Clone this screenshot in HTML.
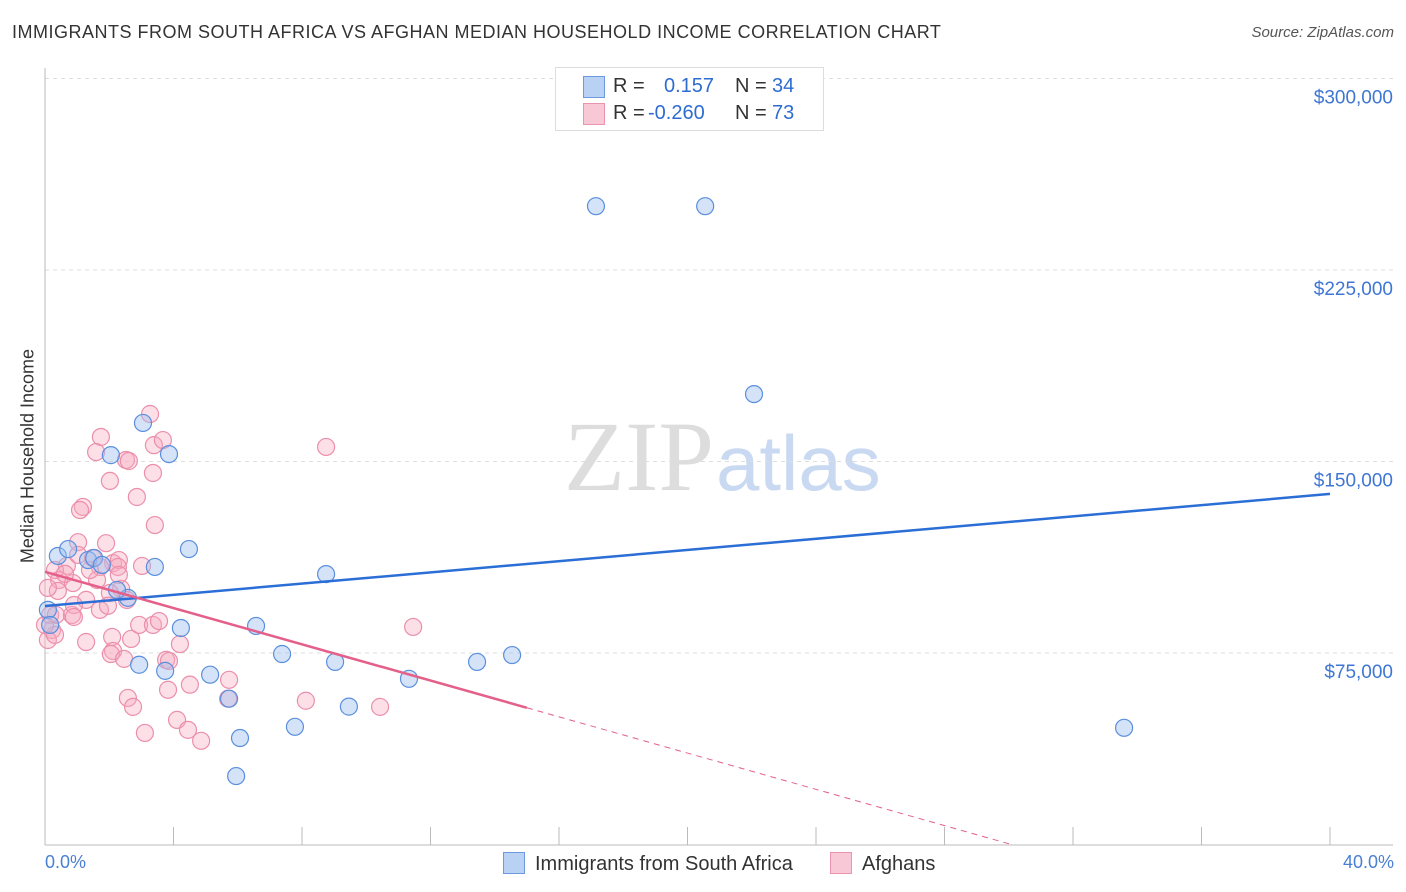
<!DOCTYPE html>
<html><head><meta charset="utf-8"><style>
body{margin:0;background:#fff;font-family:"Liberation Sans",sans-serif}
#wrap{position:relative;width:1406px;height:892px;overflow:hidden}
.t{position:absolute;white-space:nowrap}
</style></head><body>
<div id="wrap">
<div class="t" style="left:12px;top:22px;font-size:18px;color:#333;letter-spacing:0.5px">IMMIGRANTS FROM SOUTH AFRICA VS AFGHAN MEDIAN HOUSEHOLD INCOME CORRELATION CHART</div>
<div class="t" style="right:12px;top:24px;font-size:15px;color:#555;font-style:italic">Source: ZipAtlas.com</div>
<svg id="plot" width="1406" height="892" style="position:absolute;left:0;top:0">
<text x="714" y="490" font-family="Liberation Serif" font-size="100" fill="#ddd" text-anchor="end">ZIP</text>
<text x="716" y="490" font-family="Liberation Sans" font-size="78" fill="#c9d9f1">atlas</text>
</svg>
<div class="t" style="left:28px;top:456px;font-size:18px;color:#333;transform:translate(-50%,-50%) rotate(-90deg)">Median Household Income</div>
<div class="t" style="left:45px;top:852px;font-size:18px;color:#4a7fd4">0.0%</div>
<div class="t" style="right:12px;top:852px;font-size:18px;color:#4a7fd4">40.0%</div>
<div style="position:absolute;left:555px;top:67px;width:267px;height:62px;border:1px solid #ddd;background:#fff;font-size:20px">
 <div style="position:absolute;left:27px;top:8px;width:20px;height:20px;background:#b9d1f3;border:1px solid #6b9ae0"></div>
 <div class="t" style="left:57px;top:7px;color:#333">R =</div><div class="t" style="left:108px;top:7px;color:#2e6cd1">0.157</div>
 <div class="t" style="left:179px;top:7px;color:#333">N =</div><div class="t" style="left:216px;top:7px;color:#2e6cd1">34</div>
 <div style="position:absolute;left:27px;top:35px;width:20px;height:20px;background:#f9c8d6;border:1px solid #ec93ae"></div>
 <div class="t" style="left:57px;top:34px;color:#333">R =</div><div class="t" style="left:92px;top:34px;color:#2e6cd1">-0.260</div>
 <div class="t" style="left:179px;top:34px;color:#333">N =</div><div class="t" style="left:216px;top:34px;color:#2e6cd1">73</div>
</div>
<div style="position:absolute;left:503px;top:852px;font-size:20px;color:#333">
 <div style="position:absolute;left:0;top:0;white-space:nowrap"><span style="display:inline-block;width:20px;height:20px;background:#b9d1f3;border:1px solid #6b9ae0;vertical-align:-4px;margin-right:10px"></span>Immigrants from South Africa</div>
 <div style="position:absolute;left:327px;top:0;white-space:nowrap"><span style="display:inline-block;width:20px;height:20px;background:#f9c8d6;border:1px solid #ec93ae;vertical-align:-4px;margin-right:10px"></span>Afghans</div>
</div>
</div>
<script>
const yTicks=[75000,150000,225000,300000];
const yTickLabels=["$75,000","$150,000","$225,000","$300,000"];
const xTicks=[0,4,8,12,16,20,24,28,32,36,40];
const blueX=[17.15,20.55,22.07,3.05,2.05,3.86,4.48,3.42,8.75,0.40,0.72,1.34,1.53,1.77,2.58,2.24,0.09,0.16,4.23,6.57,7.38,9.03,13.45,14.54,2.93,3.74,5.14,11.33,5.73,7.78,9.46,6.07,5.95,33.59];
const blueY=[250,250,176.4,165.1,152.5,152.9,115.7,108.7,105.9,113.0,115.7,111.4,112.2,109.5,96.6,99.7,91.9,86.0,84.8,85.6,74.6,71.5,71.5,74.2,70.4,68.0,66.5,64.9,57.1,46.1,54.0,41.7,26.8,45.7];
const pinkX=[3.27,1.74,1.59,3.39,2.52,3.67,2.61,3.36,2.86,1.18,1.09,3.42,2.02,1.03,1.90,2.12,2.30,0.68,0.31,0.44,0.87,0.62,1.49,1.71,2.27,2.37,2.55,2.02,1.28,1.62,1.03,0.40,0.09,0.16,0.34,0.84,0.90,1.71,1.96,3.02,2.30,0.90,0.22,0.09,1.28,2.09,2.12,2.68,2.93,3.36,3.55,3.77,3.86,4.20,2.05,2.46,2.58,2.74,3.83,4.51,5.73,5.70,8.12,10.43,11.46,8.75,3.11,4.11,4.45,4.86,0.31,0.00,1.40];
const pinkY=[168.6,159.6,153.7,156.4,150.6,158.4,150.2,145.5,136.1,132.2,131.0,125.1,142.4,118.4,118.0,110.2,111.4,109.1,107.5,103.6,102.4,106.0,112.2,108.7,108.7,100.1,95.8,98.5,95.8,103.6,113.4,99.3,100.5,89.9,89.9,89.9,93.8,91.9,93.5,109.1,105.6,89.1,84.0,80.1,79.3,81.3,75.8,80.5,86.0,86.0,87.5,72.3,71.9,78.5,74.6,72.7,57.4,53.9,60.6,62.6,64.5,57.1,56.3,53.9,85.2,155.7,43.7,48.8,44.9,40.6,82.1,86.0,107.5];
const blueTrend=[93.4,137.3];
const pinkTrend=[106.8,-3.55];
const pinkSolidEnd=15.0;

const NS="http://www.w3.org/2000/svg";
const svg=document.getElementById('plot');
const X=v=>45+v/40*1285;
const Y=v=>844.5-v/75000*191.5;
const Yk=v=>Y(v*1000);
function mk(tag,attrs){const e=document.createElementNS(NS,tag);for(const k in attrs)e.setAttribute(k,attrs[k]);svg.appendChild(e);return e;}
yTicks.forEach((t,i)=>{
 const g=mk('line',{x1:45,x2:1393,y1:Y(t),y2:Y(t),stroke:'#ddd','stroke-dasharray':'4,4'});
 
 
 const l=mk('text',{x:1393,y:Y(t)+25,'text-anchor':'end','font-size':19,fill:'#3f76d3','font-family':'Liberation Sans'});
 l.textContent=yTickLabels[i];
 
 
});
const ax=mk('line',{x1:45,x2:1393,y1:845,y2:845,stroke:'#bbb'});


const ay=mk('line',{x1:45,x2:45,y1:68,y2:845,stroke:'#bbb'});


xTicks.forEach(t=>{
 const k=mk('line',{x1:X(t),x2:X(t),y1:827,y2:845,stroke:'#bbb'});
 
 
});
pinkX.forEach((x,i)=>{
 const c=mk('circle',{cx:X(x),cy:Yk(pinkY[i]),r:8.5,fill:'rgba(246,170,192,0.38)',stroke:'#eb8fab','stroke-width':1.2});
 
 
});
blueX.forEach((x,i)=>{
 const c=mk('circle',{cx:X(x),cy:Yk(blueY[i]),r:8.5,fill:'rgba(160,194,240,0.45)',stroke:'#5b8fde','stroke-width':1.2});
 
 
});
const bt=mk('line',{x1:X(0),y1:Yk(blueTrend[0]),x2:X(40),y2:Yk(blueTrend[1]),stroke:'#2a6ed6','stroke-width':2.5});


const pz=-pinkTrend[0]/pinkTrend[1];
const pt=mk('line',{x1:X(0),y1:Yk(pinkTrend[0]),x2:X(pinkSolidEnd),y2:Yk(pinkTrend[0]+pinkTrend[1]*pinkSolidEnd),stroke:'#e4608a','stroke-width':2.5});


const pd=mk('line',{x1:X(pinkSolidEnd),y1:Yk(pinkTrend[0]+pinkTrend[1]*pinkSolidEnd),x2:X(pz),y2:Yk(0),stroke:'#e4608a','stroke-width':1,'stroke-dasharray':'6,5'});


</script>
</body></html>
